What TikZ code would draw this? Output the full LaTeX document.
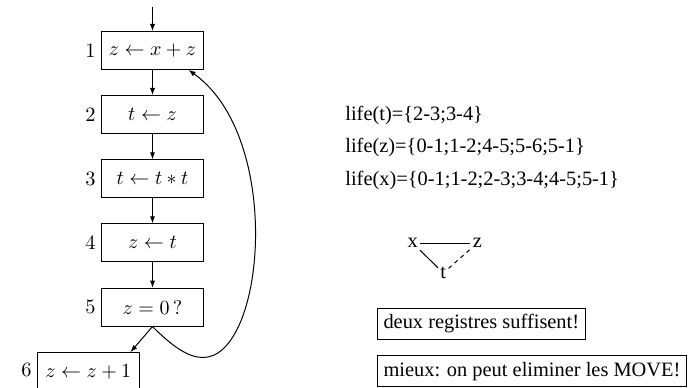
\documentclass[tikz,border=0pt]{standalone}
\usepackage{fontspec}
\newfontfamily\tmfont{Liberation Serif}
\usetikzlibrary{arrows.meta,calc}
\tikzset{
  stmt/.style={draw, line width=0.5pt, minimum width=50.85pt, minimum height=18.85pt, inner sep=0pt},
  numlbl/.style={anchor=east, inner sep=0pt},
  flow/.style={-{Latex[length=3.6pt,width=2.6pt]}, line width=0.5pt},
  lifetxt/.style={anchor=base west, inner sep=0pt, font=\tmfont},
  gnode/.style={inner sep=1pt, font=\tmfont},
  glink/.style={line width=0.5pt},
  note/.style={draw, line width=0.5pt, anchor=west, inner sep=3pt, minimum height=15.5pt, font=\tmfont}
}
\begin{document}
\begin{tikzpicture}[x=0.5pt,y=-0.5pt]
\fontsize{10.2}{12}\selectfont
\useasboundingbox (0,0) rectangle (697,387);
% flow graph
\coordinate (top) at (152.5,7);
\node[stmt] (n1) at (152.5,50.5) {$z\leftarrow x+z$};
\node[stmt] (n2) at (152.5,114.5) {$t\leftarrow z$};
\node[stmt] (n3) at (152.5,178.8) {$t\leftarrow t*t$};
\node[stmt] (n4) at (152.5,242.8) {$z\leftarrow t$};
\node[stmt] (n5) at (152.5,307.2) {$z=0\,?$};
\node[stmt] (n6) at (88.3,371.5) {$z\leftarrow z+1$};
\node[numlbl] (l1) at (96,50.5) {1};
\node[numlbl] (l2) at (96,114.5) {2};
\node[numlbl] (l3) at (96,178.8) {3};
\node[numlbl] (l4) at (96,242.8) {4};
\node[numlbl] (l5) at (96,307.2) {5};
\node[numlbl] (l6) at (32,369.5) {6};
\draw[flow] (top) -- (n1.north);
\draw[flow] (n1) -- (n2);
\draw[flow] (n2) -- (n3);
\draw[flow] (n3) -- (n4);
\draw[flow] (n4) -- (n5);
\draw[flow] (n5.south) -- ($(n6.north)!0.82!(n6.north east)$);
\coordinate (loopbot) at (203,357.5);
\draw[flow] (n5.south) .. controls (172,346) and (188,357.5) .. (loopbot)
  .. controls (265,357.5) and (284,138) .. ($(n1.south)!0.7!(n1.south east)$);
% life sets
\node[lifetxt] (lt) at (345,120) {life(t)=\{2-3;3-4\}};
\node[lifetxt] (lz) at (345,152.5) {life(z)=\{0-1;1-2;4-5;5-6;5-1\}};
\node[lifetxt] (lx) at (345,185) {life(x)=\{0-1;1-2;2-3;3-4;4-5;5-1\}};
% interference graph
\node[gnode] (gx) at (412.7,243) {x};
\node[gnode] (gz) at (477.3,243) {z};
\node[gnode] (gt) at (443.3,273) {t};
\draw[glink] (gx) -- (gz);
\draw[glink] (gx) -- (gt);
\draw[glink, dash pattern=on 2pt off 2pt] (gt) -- (gz);
% notes
\node[note] (na) at (377,323.5) {deux registres suffisent!};
\node[note] (nb) at (377,371.3) {mieux: on peut eliminer les MOVE!};
\end{tikzpicture}
\end{document}
